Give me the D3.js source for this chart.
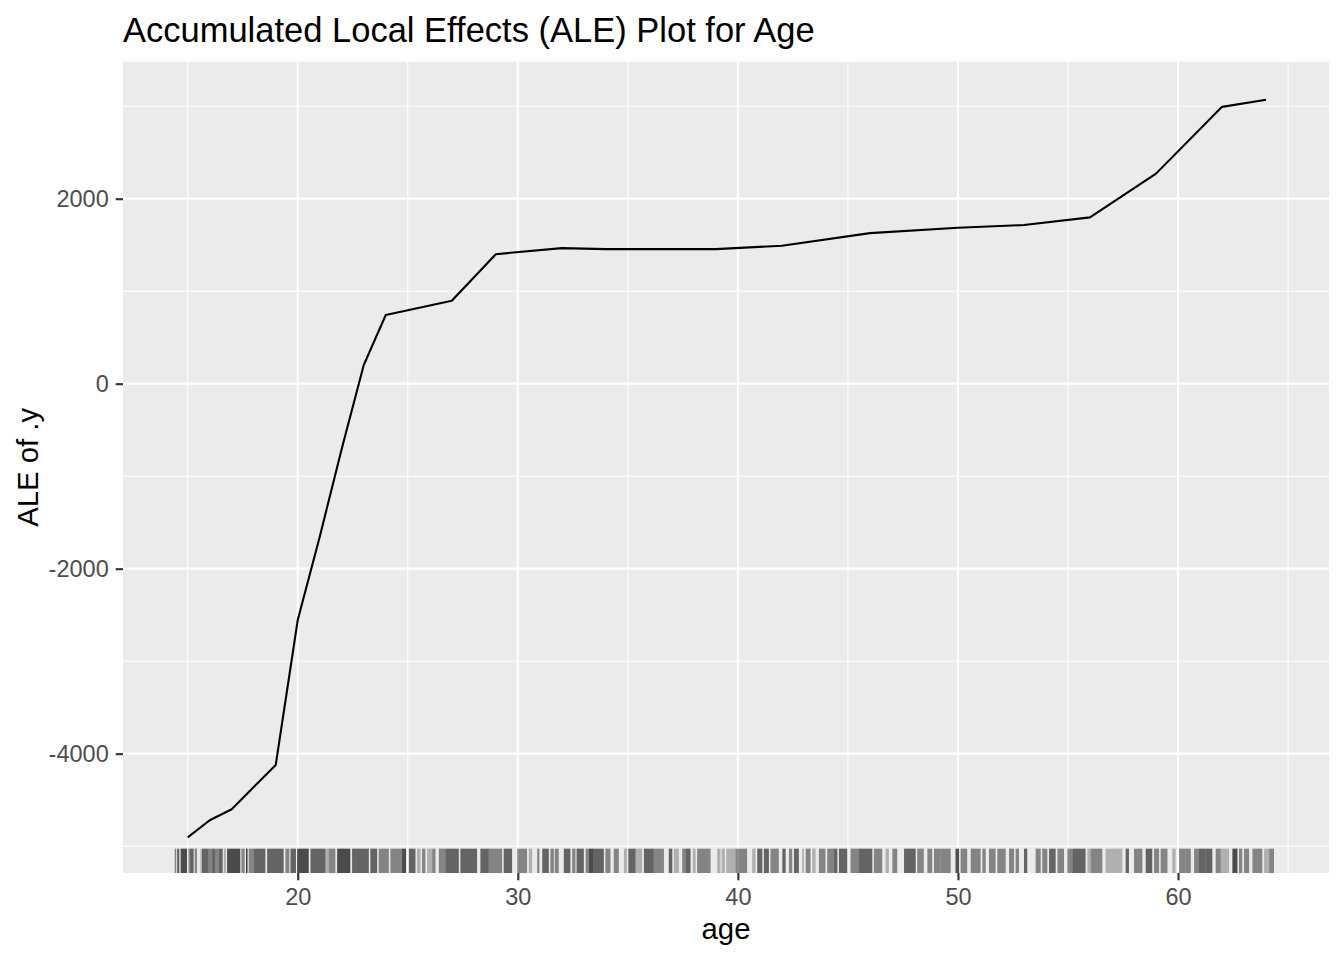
<!DOCTYPE html>
<html lang="en">
<head>
    <meta charset="UTF-8">
    <title>ALE Plot for Age</title>
    <script src="https://d3js.org/d3.v7.min.js"></script>
    <style>
        body { margin: 0; background: #ffffff; }
        text { font-family: "Liberation Sans", Arial, sans-serif; }
    </style>
</head>
<body>
    <svg id="chart" width="1344" height="960"></svg>
    <script>
        // ALE curve
        const ages = [15, 16, 17, 19, 20, 21, 22, 23, 24, 27, 29, 32, 34, 39, 42, 46, 50, 53, 56, 59, 62, 64];
        const aleValues = [-4904, -4720, -4601, -4122, -2555, -1654, -703, 202, 743, 897, 1400, 1466, 1455, 1455,
                           1491, 1628, 1686, 1715, 1798, 2271, 2993, 3069];

        // rug: [from age, to age, lines stacked]
        const rugBands = [
            [14.41, 14.47, 2], [14.52, 14.62, 3], [14.68, 14.97, 4], [15.01, 15.08, 1], [15.08, 15.27, 3],
            [15.32, 15.42, 2], [15.58, 15.65, 1], [15.65, 15.95, 3], [15.95, 16.11, 2], [16.11, 16.26, 3],
            [16.26, 16.41, 2], [16.41, 16.59, 3], [16.64, 16.74, 1], [16.79, 17.39, 4], [17.44, 17.59, 2],
            [17.65, 17.71, 5], [17.77, 18.00, 2], [18.00, 18.53, 3], [18.61, 19.36, 3], [19.44, 19.62, 2],
            [19.67, 19.92, 3], [19.97, 20.50, 4], [20.58, 21.26, 3], [21.26, 21.41, 1], [21.41, 21.71, 2],
            [21.79, 22.39, 4], [22.47, 23.23, 3], [23.30, 23.61, 3], [23.68, 24.14, 2], [24.21, 24.74, 2],
            [24.74, 24.92, 4], [25.05, 25.35, 3], [25.42, 25.58, 1], [25.65, 25.80, 2], [25.88, 26.11, 1],
            [26.11, 26.26, 2], [26.41, 26.71, 2], [26.71, 27.32, 3], [27.39, 28.15, 3], [28.30, 28.68, 3],
            [28.68, 29.29, 2], [29.36, 29.74, 3], [29.97, 30.42, 2], [30.50, 30.65, 1], [30.88, 30.98, 2],
            [31.11, 31.41, 3], [31.48, 31.64, 2], [31.68, 31.86, 2], [32.09, 32.39, 3], [32.47, 32.62, 2],
            [32.67, 33.00, 3], [33.08, 33.23, 2], [33.23, 33.45, 4], [33.45, 33.91, 3], [33.98, 34.21, 2],
            [34.36, 34.59, 2], [34.82, 34.97, 1], [35.02, 35.35, 3], [35.35, 35.65, 1], [35.73, 36.18, 3],
            [36.18, 36.64, 2], [36.86, 37.02, 3], [37.09, 37.32, 1], [37.47, 37.62, 2], [37.62, 37.85, 3],
            [37.95, 38.08, 1], [38.15, 38.76, 2], [39.06, 39.21, 1], [39.26, 39.41, 1], [39.47, 39.89, 1],
            [39.89, 40.42, 2], [40.65, 40.80, 1], [40.88, 41.11, 3], [41.18, 41.41, 3], [41.48, 41.86, 2],
            [42.02, 42.17, 3], [42.32, 42.47, 2], [42.55, 42.77, 3], [42.92, 43.00, 1], [43.08, 43.30, 2],
            [43.38, 43.53, 1], [43.68, 43.98, 2], [44.06, 44.36, 2], [44.36, 44.52, 3], [44.59, 44.97, 3],
            [45.12, 45.50, 2], [45.50, 46.11, 3], [46.18, 46.56, 2], [46.71, 46.86, 1], [47.02, 47.24, 2],
            [47.55, 48.08, 3], [48.15, 48.45, 2], [48.61, 48.83, 2], [48.91, 49.21, 2], [49.21, 49.67, 2],
            [49.89, 50.05, 4], [50.12, 50.42, 2], [50.58, 51.03, 2], [51.11, 51.26, 2], [51.41, 51.71, 2],
            [51.79, 52.17, 2], [52.32, 52.55, 2], [52.62, 52.77, 2], [53.00, 53.15, 3], [53.53, 53.76, 2],
            [53.83, 54.06, 2], [54.14, 54.44, 3], [54.52, 54.82, 2], [54.97, 55.20, 2], [55.20, 55.80, 3],
            [55.88, 56.03, 1], [56.03, 56.56, 2], [56.71, 56.86, 1], [56.86, 57.47, 1], [57.62, 57.77, 3],
            [58.00, 58.38, 2], [58.53, 58.83, 3], [58.91, 59.14, 2], [59.21, 59.52, 2], [59.74, 59.89, 1],
            [60.05, 60.35, 2], [60.35, 60.58, 2], [60.73, 60.95, 2], [60.95, 61.26, 3], [61.26, 61.56, 3],
            [61.71, 61.94, 2], [61.94, 62.32, 1], [62.47, 62.70, 4], [62.77, 62.92, 2], [63.00, 63.23, 2],
            [63.38, 63.83, 2], [63.91, 64.14, 1], [64.14, 64.36, 2]
        ];

        const xMajor = [20, 30, 40, 50, 60];
        const xMinor = [15, 25, 35, 45, 55, 65];
        const yMajor = [-4000, -2000, 0, 2000];
        const yMinor = [-5000, -3000, -1000, 1000, 3000];

        const titleText = "Accumulated Local Effects (ALE) Plot for Age";
        const xTitle = "age";
        const yTitle = "ALE of .y";

        // panel box
        const panel = {left: 123, right: 1329, top: 61.7, bottom: 873};

        const svg = d3.select("#chart");

        const x = d3.scaleLinear()
            .domain([12.06, 66.86])
            .range([panel.left, panel.right]);

        const y = d3.scaleLinear()
            .domain([-5290, 3481])
            .range([panel.bottom, panel.top]);

        // background
        svg.append("rect")
            .attr("x", panel.left)
            .attr("y", panel.top)
            .attr("width", panel.right - panel.left)
            .attr("height", panel.bottom - panel.top)
            .attr("fill", "#ebebeb");

        // grid lines
        const grid = svg.append("g").attr("stroke", "#ffffff");
        grid.selectAll(".ymin").data(yMinor).enter().append("line")
            .attr("x1", panel.left).attr("x2", panel.right)
            .attr("y1", d => y(d)).attr("y2", d => y(d))
            .attr("stroke-width", 1.07);
        grid.selectAll(".xmin").data(xMinor).enter().append("line")
            .attr("y1", panel.top).attr("y2", panel.bottom)
            .attr("x1", d => x(d)).attr("x2", d => x(d))
            .attr("stroke-width", 1.07);
        grid.selectAll(".ymaj").data(yMajor).enter().append("line")
            .attr("x1", panel.left).attr("x2", panel.right)
            .attr("y1", d => y(d)).attr("y2", d => y(d))
            .attr("stroke-width", 2.13);
        grid.selectAll(".xmaj").data(xMajor).enter().append("line")
            .attr("y1", panel.top).attr("y2", panel.bottom)
            .attr("x1", d => x(d)).attr("x2", d => x(d))
            .attr("stroke-width", 2.13);

        // ALE line
        const line = d3.line()
            .x((d, i) => x(ages[i]))
            .y(d => y(d));

        svg.append("path")
            .datum(aleValues)
            .attr("fill", "none")
            .attr("stroke", "#000000")
            .attr("stroke-width", 2.1)
            .attr("stroke-linejoin", "round")
            .attr("d", line);

        // rug, 3% of panel height, each stacked line adds some black
        const rugTop = panel.bottom - 0.03 * (panel.bottom - panel.top);
        svg.append("g")
            .selectAll("rect")
            .data(rugBands)
            .enter().append("rect")
            .attr("x", d => x(d[0]))
            .attr("width", d => Math.max(1.5, x(d[1]) - x(d[0])))
            .attr("y", rugTop)
            .attr("height", panel.bottom - rugTop)
            .attr("fill", "#000000")
            .attr("fill-opacity", d => 1 - Math.pow(0.75, d[2]));

        const plainNumber = d => String(d);

        // x axis
        const xAxis = svg.append("g")
            .attr("transform", `translate(0,${panel.bottom})`)
            .call(d3.axisBottom(x).tickValues(xMajor).tickSize(7.3).tickPadding(8).tickFormat(plainNumber));
        xAxis.select(".domain").remove();
        xAxis.selectAll(".tick line").attr("stroke", "#333333").attr("stroke-width", 2.13);
        xAxis.selectAll(".tick text")
            .attr("fill", "#4d4d4d")
            .style("font-size", "23.5px");

        // y axis
        const yAxis = svg.append("g")
            .attr("transform", `translate(${panel.left},0)`)
            .call(d3.axisLeft(y).tickValues(yMajor).tickSize(7.3).tickPadding(7).tickFormat(plainNumber));
        yAxis.select(".domain").remove();
        yAxis.selectAll(".tick line").attr("stroke", "#333333").attr("stroke-width", 2.13);
        yAxis.selectAll(".tick text")
            .attr("fill", "#4d4d4d")
            .style("font-size", "23.5px");

        // titles
        svg.append("text")
            .attr("x", panel.left)
            .attr("y", 41.5)
            .attr("fill", "#000000")
            .style("font-size", "34.5px")
            .text(titleText);

        svg.append("text")
            .attr("x", (panel.left + panel.right) / 2)
            .attr("y", 939)
            .attr("text-anchor", "middle")
            .attr("fill", "#000000")
            .style("font-size", "29.3px")
            .text(xTitle);

        svg.append("text")
            .attr("transform", `translate(37.5,${(panel.top + panel.bottom) / 2}) rotate(-90)`)
            .attr("text-anchor", "middle")
            .attr("fill", "#000000")
            .style("font-size", "29.3px")
            .text(yTitle);
    </script>
</body>
</html>
